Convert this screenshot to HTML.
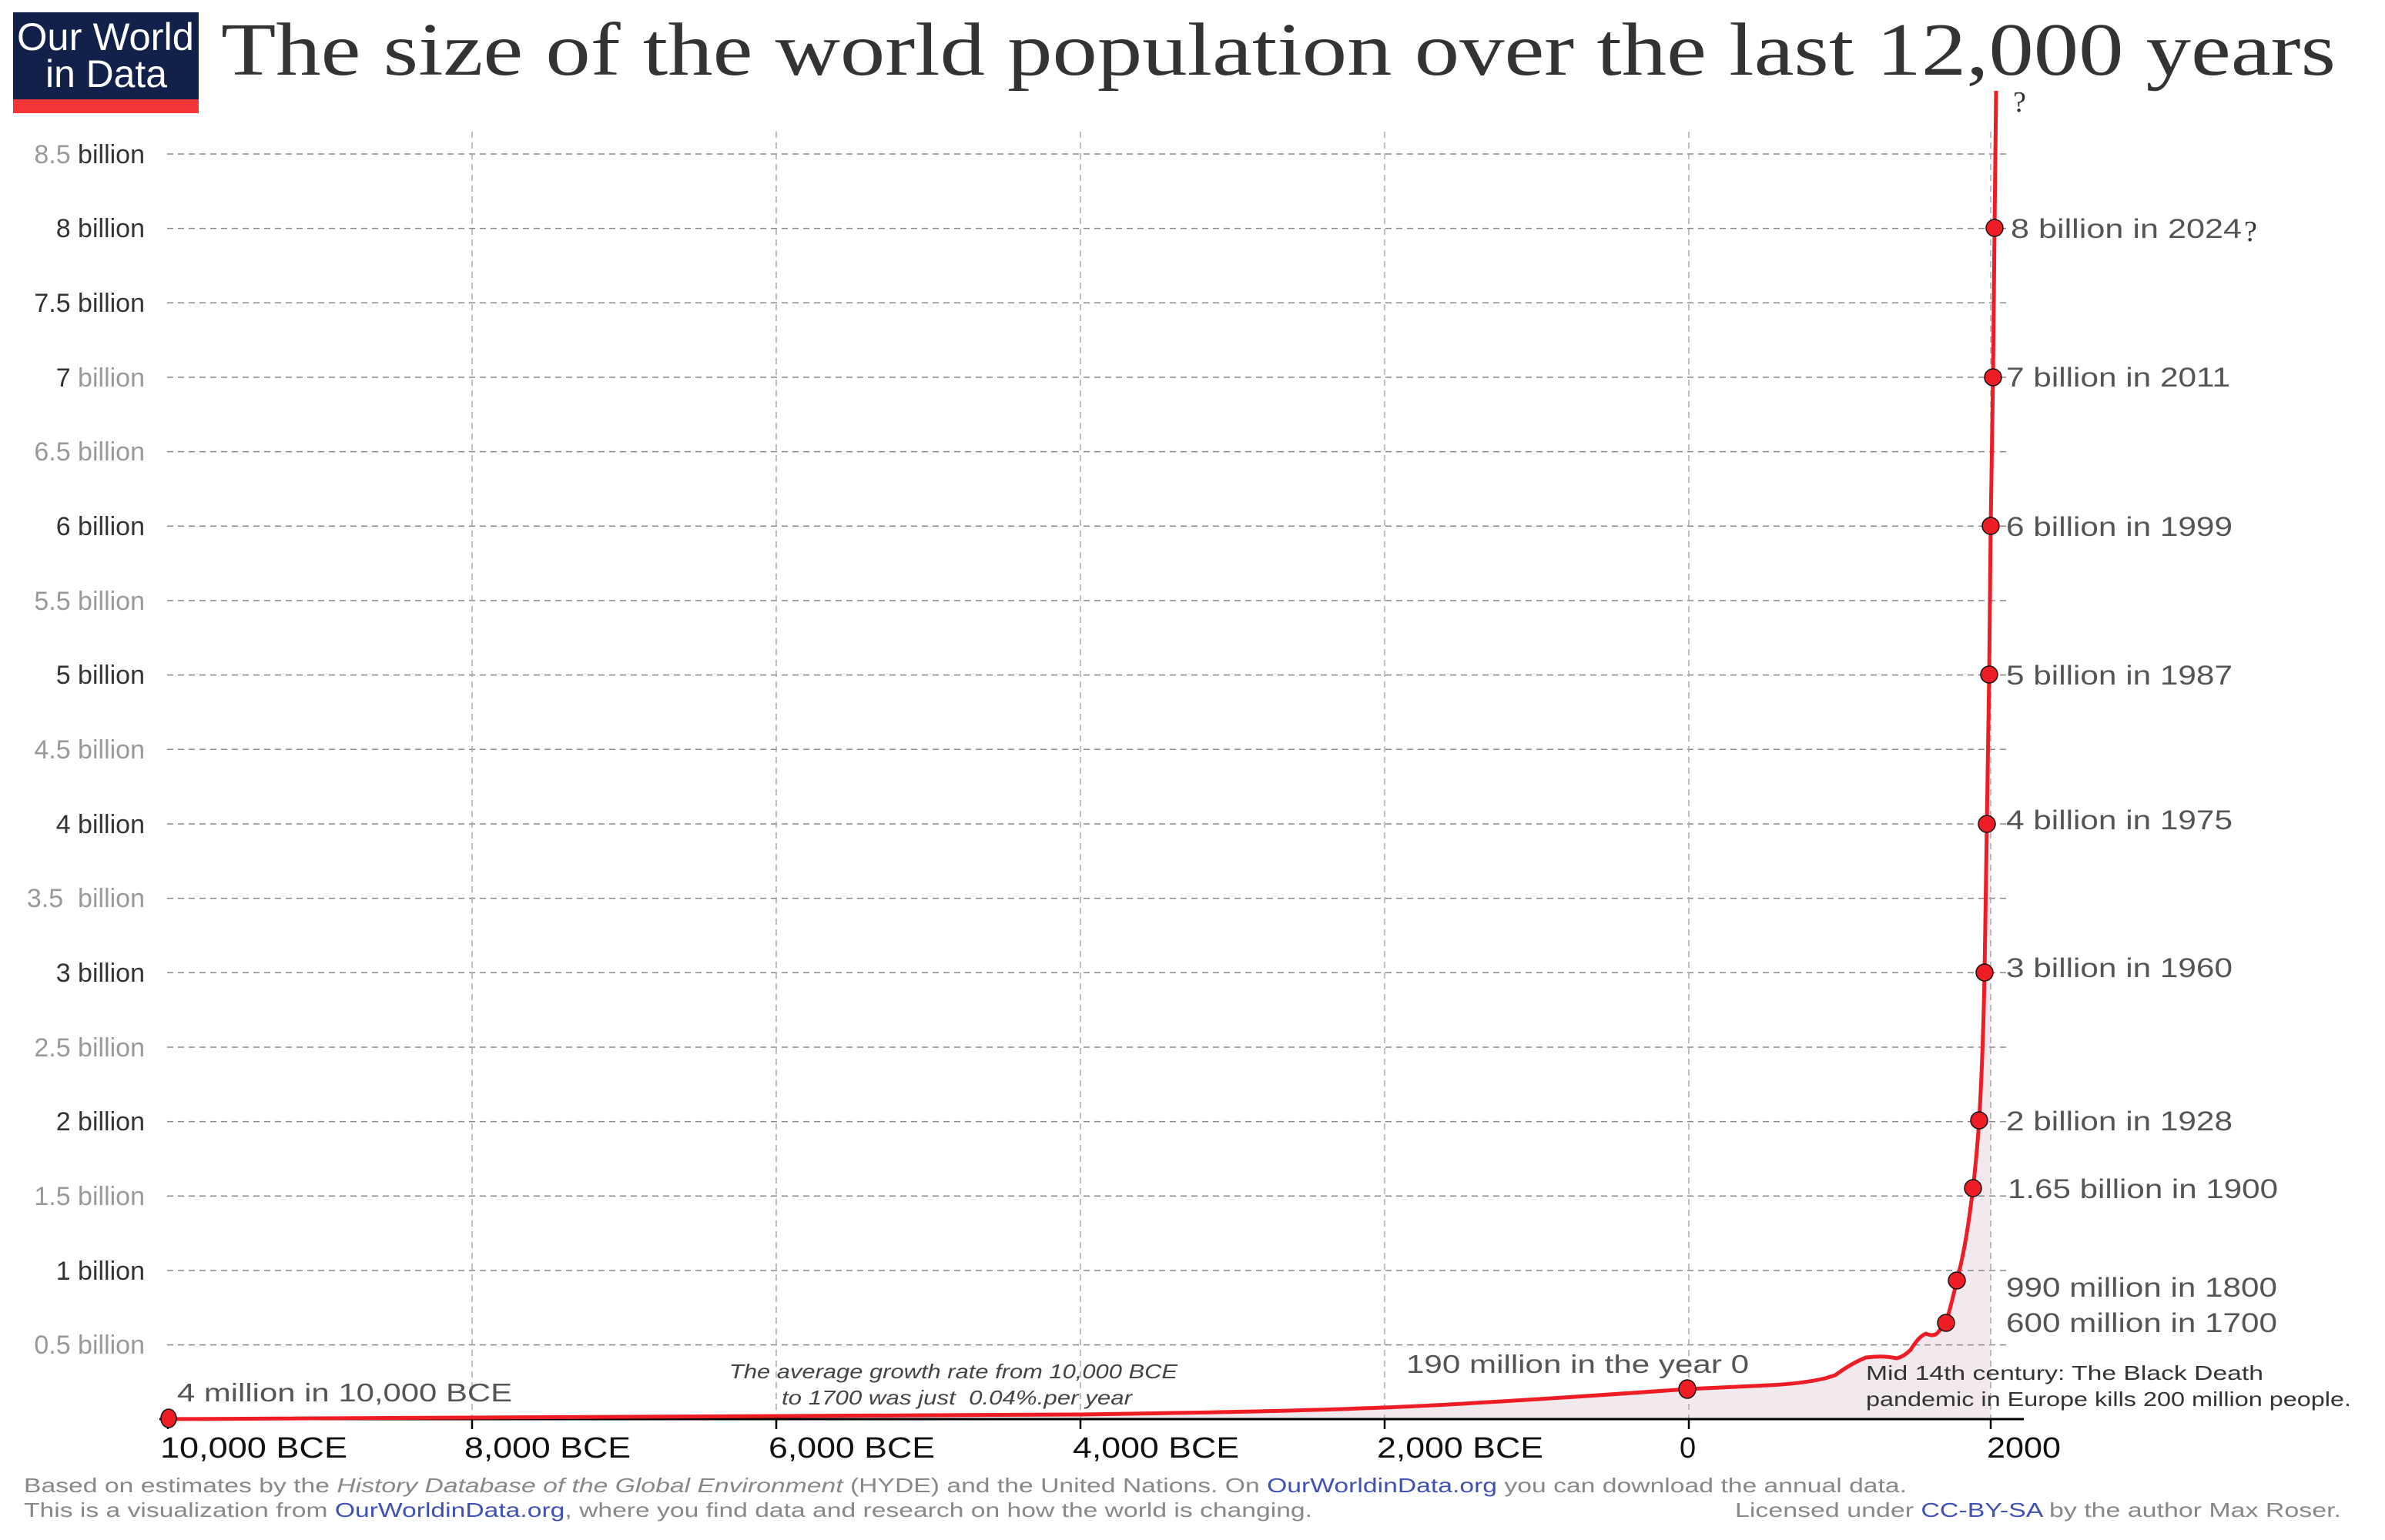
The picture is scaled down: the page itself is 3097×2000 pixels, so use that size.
<!DOCTYPE html>
<html><head><meta charset="utf-8"><style>
html,body{margin:0;padding:0;background:#fff}
svg{display:block}
text{font-family:"Liberation Sans",Arial,sans-serif}
</style></head><body>
<svg width="3097" height="2000" viewBox="0 0 3097 2000" xmlns="http://www.w3.org/2000/svg">
<defs>
<linearGradient id="fade" x1="0" x2="1" y1="0" y2="0">
<stop offset="0" stop-color="#e88" stop-opacity="0"/>
<stop offset="1" stop-color="#c33" stop-opacity="1"/>
</linearGradient>
</defs>
<rect width="3097" height="2000" fill="#fff"/>
<!-- logo -->
<rect x="17" y="16" width="241" height="113" fill="#12214a"/>
<rect x="17" y="129" width="241" height="18" fill="#f33636"/>
<text x="22" y="65" fill="#fff" font-size="50" textLength="230" lengthAdjust="spacingAndGlyphs">Our World</text>
<text x="59" y="113" fill="#fff" font-size="50" textLength="158" lengthAdjust="spacingAndGlyphs">in Data</text>
<!-- title -->
<text x="287" y="97" fill="#333" font-size="98" style="font-family:'Liberation Serif',Georgia,serif" textLength="2746" lengthAdjust="spacingAndGlyphs">The size of the world population over the last 12,000 years</text>

<!-- shaded area -->
<path d="M217,1843 L613,1842 L1008,1841 L1403,1837 L1700,1832 L1796,1828 L1987,1820 L2191,1804 L2297,1799 L2349,1795 L2383,1786 L2423,1763 L2463,1764 L2481,1753 L2501,1732 L2515,1732 L2527,1718 L2541,1663 L2562,1543 L2570,1455 L2577,1263 L2580,1070 L2583,876 L2585,683 L2585,1843 Z" fill="#f1e9ee"/>

<!-- horizontal gridlines -->
<g stroke="#888" stroke-width="1.5" stroke-dasharray="8,6" fill="none">
<line x1="217" y1="200" x2="2607" y2="200"/>
<line x1="217" y1="296.6" x2="2607" y2="296.6"/>
<line x1="217" y1="393.3" x2="2607" y2="393.3"/>
<line x1="217" y1="490" x2="2607" y2="490"/>
<line x1="217" y1="586.6" x2="2607" y2="586.6"/>
<line x1="217" y1="683.3" x2="2607" y2="683.3"/>
<line x1="217" y1="780" x2="2607" y2="780"/>
<line x1="217" y1="876.6" x2="2607" y2="876.6"/>
<line x1="217" y1="973.3" x2="2607" y2="973.3"/>
<line x1="217" y1="1070" x2="2607" y2="1070"/>
<line x1="217" y1="1166.6" x2="2607" y2="1166.6"/>
<line x1="217" y1="1263.3" x2="2607" y2="1263.3"/>
<line x1="217" y1="1360" x2="2607" y2="1360"/>
<line x1="217" y1="1456.6" x2="2607" y2="1456.6"/>
<line x1="217" y1="1553.3" x2="2607" y2="1553.3"/>
<line x1="217" y1="1650" x2="2607" y2="1650"/>
<line x1="217" y1="1746.6" x2="2607" y2="1746.6"/>
</g>
<!-- vertical gridlines -->
<g stroke="#aaa" stroke-width="1.5" stroke-dasharray="8,6">
<line x1="613" y1="171" x2="613" y2="1843"/>
<line x1="1008" y1="171" x2="1008" y2="1843"/>
<line x1="1403" y1="171" x2="1403" y2="1843"/>
<line x1="1798" y1="171" x2="1798" y2="1843"/>
<line x1="2193" y1="171" x2="2193" y2="1843"/>
<line x1="2585" y1="171" x2="2585" y2="1843"/>
</g>

<!-- y labels -->
<g font-size="34" text-anchor="end">
<text x="188" y="212"><tspan fill="#999">8.5</tspan><tspan fill="#333"> billion</tspan></text>
<text x="188" y="308" fill="#333">8 billion</text>
<text x="188" y="405" fill="#333">7.5 billion</text>
<text x="188" y="502"><tspan fill="#333">7</tspan><tspan fill="#999"> billion</tspan></text>
<text x="188" y="598" fill="#999">6.5 billion</text>
<text x="188" y="695" fill="#333">6 billion</text>
<text x="188" y="792" fill="#999">5.5 billion</text>
<text x="188" y="888" fill="#333">5 billion</text>
<text x="188" y="985" fill="#999">4.5 billion</text>
<text x="188" y="1082" fill="#333">4 billion</text>
<text x="188" y="1178" fill="#999" xml:space="preserve">3.5  billion</text>
<text x="188" y="1275" fill="#333">3 billion</text>
<text x="188" y="1372" fill="#999">2.5 billion</text>
<text x="188" y="1468" fill="#333">2 billion</text>
<text x="188" y="1565" fill="#999">1.5 billion</text>
<text x="188" y="1662" fill="#333">1 billion</text>
<text x="188" y="1758" fill="#999">0.5 billion</text>
</g>

<!-- axis -->
<line x1="207" y1="1843" x2="2628" y2="1843" stroke="#000" stroke-width="3"/>
<g stroke="#000" stroke-width="2.5">
<line x1="218" y1="1843" x2="218" y2="1856"/>
<line x1="613" y1="1843" x2="613" y2="1856"/>
<line x1="1008" y1="1843" x2="1008" y2="1856"/>
<line x1="1403" y1="1843" x2="1403" y2="1856"/>
<line x1="1798" y1="1843" x2="1798" y2="1856"/>
<line x1="2193" y1="1843" x2="2193" y2="1856"/>
<line x1="2585" y1="1843" x2="2585" y2="1856"/>
</g>
<g font-size="38" fill="#111">
<text x="208" y="1893" textLength="243" lengthAdjust="spacingAndGlyphs">10,000 BCE</text>
<text x="603" y="1893" textLength="216" lengthAdjust="spacingAndGlyphs">8,000 BCE</text>
<text x="998" y="1893" textLength="216" lengthAdjust="spacingAndGlyphs">6,000 BCE</text>
<text x="1393" y="1893" textLength="216" lengthAdjust="spacingAndGlyphs">4,000 BCE</text>
<text x="1788" y="1893" textLength="216" lengthAdjust="spacingAndGlyphs">2,000 BCE</text>
<text x="2181" y="1893">0</text>
<text x="2580" y="1893" textLength="96" lengthAdjust="spacingAndGlyphs">2000</text>
</g>

<!-- dashed fade -->
<line x1="25" y1="1843" x2="208" y2="1843" stroke="url(#fade)" stroke-width="5" stroke-dasharray="14,8"/>

<!-- curve -->
<path d="M217,1843 C700,1842 1100,1840 1403,1837 C1600,1834 1700,1832 1796,1828 C1900,1824 2050,1814 2191,1804 L2297,1799 Q2340,1797 2370,1790 L2383,1786 Q2405,1770 2423,1763 Q2445,1760 2463,1764 Q2472,1762 2481,1753 Q2492,1735 2501,1732 Q2510,1736 2515,1732 L2527,1718 Q2535,1690 2541,1663 Q2553,1620 2562,1543 Q2567,1500 2570,1455 Q2575,1370 2577,1263 L2580,1070 L2583,876 L2585,683 L2588,490 L2590,296 L2592,118" fill="none" stroke="#ee1c25" stroke-width="5" stroke-linejoin="round"/>

<!-- dots -->
<g fill="#ee1c25" stroke="#111" stroke-width="1.5">
<ellipse cx="219" cy="1842" rx="10" ry="12"/>
<ellipse cx="2191" cy="1804" rx="11" ry="12"/>
<circle cx="2527" cy="1718" r="11"/>
<circle cx="2541" cy="1663" r="11"/>
<circle cx="2562" cy="1543" r="11"/>
<circle cx="2570" cy="1455" r="11"/>
<circle cx="2577" cy="1263" r="11"/>
<circle cx="2580" cy="1070" r="11"/>
<circle cx="2583" cy="876" r="11"/>
<circle cx="2585" cy="683" r="11"/>
<circle cx="2588" cy="490" r="11"/>
<circle cx="2590" cy="296" r="11"/>
</g>

<!-- right labels -->
<g font-size="35" fill="#555">
<text x="2611" y="309" textLength="300" lengthAdjust="spacingAndGlyphs">8 billion in 2024</text>
<text x="2605" y="502" textLength="291" lengthAdjust="spacingAndGlyphs">7 billion in 2011</text>
<text x="2605" y="696" textLength="294" lengthAdjust="spacingAndGlyphs">6 billion in 1999</text>
<text x="2605" y="889" textLength="294" lengthAdjust="spacingAndGlyphs">5 billion in 1987</text>
<text x="2605" y="1077" textLength="294" lengthAdjust="spacingAndGlyphs">4 billion in 1975</text>
<text x="2605" y="1269" textLength="294" lengthAdjust="spacingAndGlyphs">3 billion in 1960</text>
<text x="2605" y="1468" textLength="294" lengthAdjust="spacingAndGlyphs">2 billion in 1928</text>
<text x="2607" y="1556" textLength="351" lengthAdjust="spacingAndGlyphs">1.65 billion in 1900</text>
<text x="2605" y="1684" textLength="352" lengthAdjust="spacingAndGlyphs">990 million in 1800</text>
<text x="2605" y="1730" textLength="352" lengthAdjust="spacingAndGlyphs">600 million in 1700</text>
</g>
<text x="2614" y="145" font-size="38" fill="#333" style="font-family:'Liberation Serif',serif">?</text>
<text x="2914" y="313" font-size="38" fill="#333" style="font-family:'Liberation Serif',serif">?</text>

<!-- annotations -->
<text x="230" y="1820" font-size="33" fill="#555" textLength="435" lengthAdjust="spacingAndGlyphs">4 million in 10,000 BCE</text>
<text x="1826" y="1783" font-size="33" fill="#555" textLength="445" lengthAdjust="spacingAndGlyphs">190 million in the year 0</text>
<text x="947" y="1790" font-size="26" fill="#444" font-style="italic" textLength="582" lengthAdjust="spacingAndGlyphs">The average growth rate from 10,000 BCE</text>
<text x="1015" y="1824" font-size="26" fill="#444" font-style="italic" textLength="455" lengthAdjust="spacingAndGlyphs" xml:space="preserve">to 1700 was just  0.04%.per year</text>
<text x="2423" y="1792" font-size="26" fill="#333" textLength="516" lengthAdjust="spacingAndGlyphs">Mid 14th century: The Black Death</text>
<text x="2423" y="1826" font-size="26" fill="#333" textLength="630" lengthAdjust="spacingAndGlyphs">pandemic in Europe kills 200 million people.</text>

<!-- footer -->
<text x="31" y="1938" font-size="26" fill="#888" textLength="2445" lengthAdjust="spacingAndGlyphs">Based on estimates by the <tspan font-style="italic">History Database of the Global Environment</tspan> (HYDE) and the United Nations. On <tspan fill="#3f51b5">OurWorldinData.org</tspan> you can download the annual data.</text>
<text x="31" y="1970" font-size="26" fill="#888" textLength="1673" lengthAdjust="spacingAndGlyphs">This is a visualization from <tspan fill="#3f51b5">OurWorldinData.org</tspan>, where you find data and research on how the world is changing.</text>
<text x="2253" y="1970" font-size="26" fill="#888" textLength="787" lengthAdjust="spacingAndGlyphs">Licensed under <tspan fill="#3f51b5">CC-BY-SA</tspan> by the author Max Roser.</text>
</svg>
</body></html>
